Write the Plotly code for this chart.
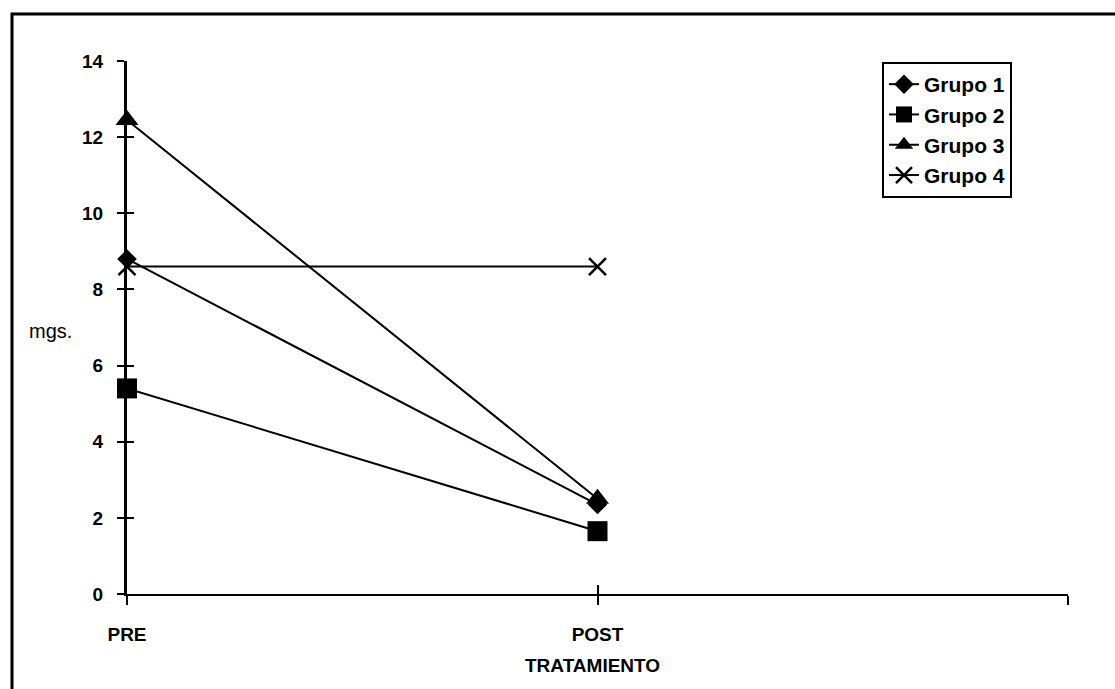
import plotly.graph_objects as go

# Treatment stages and mean values (mg) per group
stages = ["PRE", "POST"]
stage_pos = [0, 1]
grupo_1 = [8.8, 2.35]
grupo_2 = [5.4, 1.65]
grupo_3 = [12.45, 2.5]
grupo_4 = [8.6, 8.6]

group_names = ["Grupo 1", "Grupo 2", "Grupo 3", "Grupo 4"]
y_ticks = [0, 2, 4, 6, 8, 10, 12, 14]

FONT = "Liberation Sans, Arial, sans-serif"
W, H = 1115, 689
L, R, T, B = 127, 47, 61, 95

fig = go.Figure()

series = [grupo_1, grupo_2, grupo_3, grupo_4]
symbols = ["diamond", "square", "triangle-up", "x-thin"]
sizes = [15, 20, 20, 17]
# draw group 4 first so the filled markers sit on top at PRE
order = [3, 0, 1, 2]
for i in order:
    marker = dict(symbol=symbols[i], size=sizes[i], color="black",
                  line=dict(color="black", width=2.5 if symbols[i] == "x-thin" else 0))
    fig.add_trace(go.Scatter(
        x=stage_pos, y=series[i], name=group_names[i], mode="lines+markers",
        line=dict(color="black", width=2), marker=marker,
        legendrank=i + 1, cliponaxis=False,
    ))

# invisible trace carrying the inward half of the crossing tick marks
fig.add_trace(go.Scatter(x=[0], y=[0], xaxis="x2", yaxis="y2", mode="markers",
                         marker=dict(opacity=0), showlegend=False, hoverinfo="skip"))

fig.update_layout(
    width=W, height=H,
    margin=dict(l=L, r=R, t=T, b=B),
    paper_bgcolor="white", plot_bgcolor="white",
    font=dict(family=FONT, size=19, color="black", weight="bold"),
    showlegend=True,
    legend=dict(
        x=(882 - L) / (W - L - R), y=(H - B - 62) / (H - T - B),
        xanchor="left", yanchor="top",
        bgcolor="white", bordercolor="black", borderwidth=2,
        font=dict(family=FONT, size=21, color="black", weight="bold"),
        traceorder="normal", tracegroupgap=0,
    ),
    xaxis=dict(
        range=[0, 2], tickvals=[0, 1, 2], ticktext=stages + [""],
        showline=True, linecolor="black", linewidth=2,
        ticks="outside", ticklen=9, tickwidth=2, tickcolor="black",
        showgrid=False, zeroline=False, ticklabelstandoff=13,
        tickfont=dict(family=FONT, size=19, weight="bold"),
    ),
    yaxis=dict(
        range=[0, 14], tickvals=y_ticks,
        showline=True, linecolor="black", linewidth=3,
        ticks="outside", ticklen=7, tickwidth=2, tickcolor="black",
        showgrid=False, zeroline=False, ticklabelstandoff=10,
        tickfont=dict(family=FONT, size=19, weight="bold"),
    ),
    xaxis2=dict(
        overlaying="x", anchor="y", side="bottom", range=[0, 2], tickvals=[0, 1, 2],
        showticklabels=False, ticks="inside", ticklen=9, tickwidth=2, tickcolor="black",
        showgrid=False, zeroline=False, showline=False,
    ),
    yaxis2=dict(
        overlaying="y", anchor="x", side="left", range=[0, 14], tickvals=y_ticks,
        showticklabels=False, ticks="inside", ticklen=7, tickwidth=2, tickcolor="black",
        showgrid=False, zeroline=False, showline=False,
    ),
)

pw, ph = W - L - R, H - T - B
# axis titles
fig.add_annotation(text="mgs.", xref="paper", yref="paper",
                   x=(50 - L) / pw, y=(H - B - 331) / ph, showarrow=False,
                   xanchor="center", yanchor="middle",
                   font=dict(family=FONT, size=20, weight="normal"))
fig.add_annotation(text="TRATAMIENTO", xref="paper", yref="paper",
                   x=(592 - L) / pw, y=(H - B - 665) / ph, showarrow=False,
                   xanchor="center", yanchor="middle",
                   font=dict(family=FONT, size=19, weight="bold"))

# outer chart frame (left and top edges visible)
fig.add_shape(type="rect", xref="paper", yref="paper",
              x0=(12 - L) / pw, x1=(W + 80 - L) / pw,
              y0=(H - B - (H + 80)) / ph, y1=(H - B - 14) / ph,
              line=dict(color="black", width=3), fillcolor="rgba(0,0,0,0)", layer="below")

fig.write_html("out.html")
